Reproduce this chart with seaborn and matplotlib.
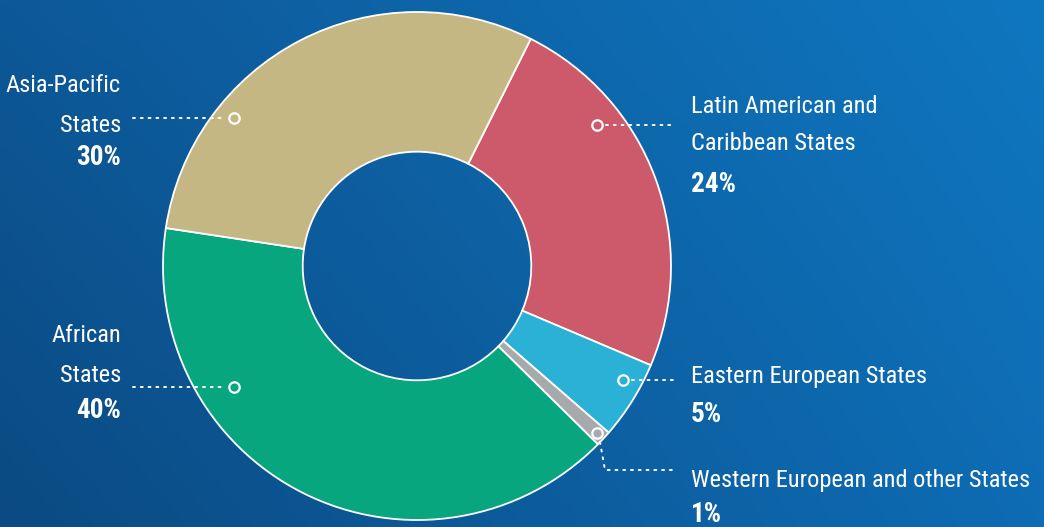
import numpy as np
import matplotlib
matplotlib.use("Agg")
import matplotlib.pyplot as plt
import seaborn as sns
from matplotlib import font_manager

# data
groups = ["Latin American and\nCaribbean States", "Eastern European States",
          "Western European and other States", "African\nStates", "Asia-Pacific\nStates"]
shares = [24, 5, 1, 40, 30]
palette = ["#CD5A6B", "#2BB0D6", "#A8A9AD", "#07A67F", "#C5B783"]

sns.set_style("white")
names = {f.name for f in font_manager.fontManager.ttflist}
fam, fs = "Roboto", 16
for cand, size in [("Liberation Sans Narrow", 18), ("Roboto Condensed", 17.6),
                   ("DejaVu Sans Condensed", 16)]:
    if cand in names:
        fam, fs = cand, size
        break
if fam not in names:
    fam, fs = "DejaVu Sans", 14
plt.rcParams["font.family"] = [fam, "DejaVu Sans"]

W, H = 1044, 527
cx, cy, R = 417, 266, 254


def P(px, py):
    # pixel position -> data units of the pie axes
    return (px - cx) / R, (cy - py) / R


fig = plt.figure(figsize=(W / 100, H / 100), dpi=100)

# background gradient
bg = fig.add_axes([0, 0, 1, 1])
u = np.linspace(0, 1, 200)[None, :, None]
v = np.linspace(0, 1, 100)[:, None, None]
tl = np.array([13, 88, 152]) / 255
tr = np.array([15, 119, 192]) / 255
bl = np.array([11, 74, 130]) / 255
br = np.array([14, 108, 180]) / 255
img = (1 - u) * (1 - v) * tl + u * (1 - v) * tr + (1 - u) * v * bl + u * v * br
bg.imshow(img, aspect="auto", extent=(0, 1, 0, 1), interpolation="bilinear")
bg.axis("off")

ax = fig.add_axes([0, 0, 1, 1])
ax.patch.set_alpha(0)
ax.pie(shares, colors=palette, startangle=63.4, counterclock=False, radius=1,
       wedgeprops=dict(width=0.55, edgecolor="white", linewidth=1.3))
ax.set_xlim(-cx / R, (W - cx) / R)
ax.set_ylim(-(H - cy) / R, cy / R)
ax.set_aspect("auto")
ax.axis("off")

# label layout: text x, alignment, line baselines, pct baseline, marker, leader path
layout = [
    dict(x=691, ha="left", lines=[113, 150], pct=192, mark=(597, 125), path=[(606, 125), (672, 125)]),
    dict(x=691, ha="left", lines=[383], pct=422, mark=(623, 380), path=[(632, 380), (673, 380)]),
    dict(x=691, ha="left", lines=[487], pct=522, mark=(597, 433), path=[(600, 442), (605, 470), (672, 470)]),
    dict(x=121, ha="right", lines=[342, 382], pct=418, mark=(234, 387), path=[(133, 387), (225, 387)]),
    dict(x=121, ha="right", lines=[92, 132], pct=165, mark=(234, 118), path=[(133, 118), (225, 118)]),
]

for name, share, lay in zip(groups, shares, layout):
    for line, base in zip(name.split("\n"), lay["lines"]):
        ax.text(*P(lay["x"], base), line, ha=lay["ha"], va="baseline",
                color="white", fontsize=fs)
    ax.text(*P(lay["x"], lay["pct"]), f"{share}%", ha=lay["ha"], va="baseline",
            color="white", fontsize=fs + 2, fontweight="bold")
    xs, ys = zip(*[P(*p) for p in lay["path"]])
    ax.plot(xs, ys, color="white", lw=1.4, linestyle=(0, (1, 3)),
            dash_capstyle="round")
    ax.plot(*P(*lay["mark"]), "o", ms=7.5, mfc="none", mec="white", mew=1.6)

fig.savefig("out.png", dpi=100)
